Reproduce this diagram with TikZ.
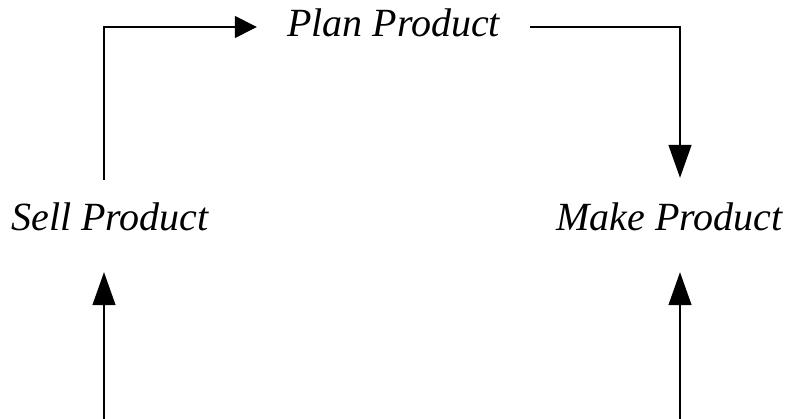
\documentclass[tikz,border=0pt]{standalone}
\usepackage{fontspec}
\setmainfont{Liberation Serif}
\usetikzlibrary{arrows.meta}
\begin{document}
\begin{tikzpicture}[x=1pt,y=-1pt,
  label/.style={font=\fontsize{40}{48}\selectfont\itshape, inner sep=0pt,
    text height=26pt, text depth=0pt, anchor=base},
  wire/.style={line width=1.4pt},
  harrow/.style={wire, -{Triangle[length=22pt,width=22pt]}},
  varrow/.style={wire, -{Triangle[length=33pt,width=23pt]}}]
\useasboundingbox (0,0) rectangle (791,419);

% process steps
\node[label, text depth=6pt, minimum width=273pt] (plan) at (393.5,37) {Plan Product};
\node[label] (sell) at (110,231) {Sell Product};
\node[label] (make) at (669.5,231) {Make Product};

% columns of the vertical connectors
\coordinate (lx) at (104,0);
\coordinate (rx) at (680,0);
\coordinate (sellfoot) at (104,419);
\coordinate (makefoot) at (680,419);

% cycle connectors
\draw[harrow, shorten <=25pt] (sell.north -| lx) |- (plan.west);
\draw[varrow, shorten >=27pt] (plan.east) -| (make.north -| rx);
\draw[varrow, shorten >=41pt] (sellfoot) -- (sellfoot |- sell.south);
\draw[varrow, shorten >=41pt] (makefoot) -- (makefoot |- make.south);
\end{tikzpicture}
\end{document}
